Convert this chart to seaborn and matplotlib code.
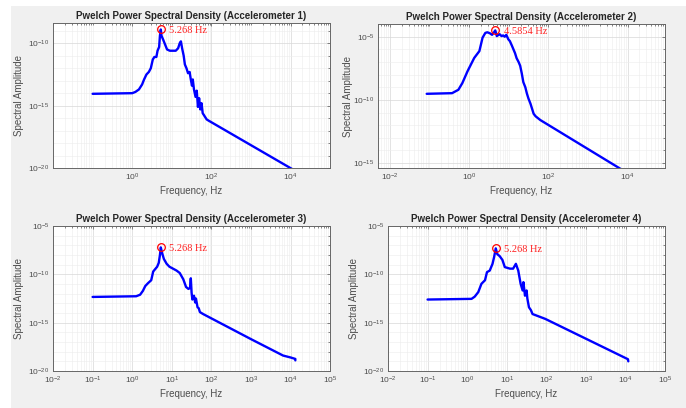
import numpy as np
import pandas as pd
import matplotlib
matplotlib.use('Agg')
import matplotlib.pyplot as plt
import matplotlib.ticker as mticker
from matplotlib.patches import Rectangle
import seaborn as sns

# ── Data (log10 frequency, log10 PSD) ─────────────────────────────────
acc1_logf = [-1.0, 0.0, 0.08, 0.17, 0.25, 0.30, 0.36, 0.42, 0.47, 0.52, 0.56, 0.61,
             0.64, 0.68, 0.70, 0.722, 0.74, 0.78, 0.83, 0.88, 0.95, 1.03, 1.10, 1.16,
             1.20, 1.23, 1.26, 1.30, 1.33, 1.37, 1.41, 1.45, 1.48, 1.51, 1.53, 1.56,
             1.60, 1.63, 1.66, 1.69, 1.72, 1.75, 1.78, 1.82, 1.88, 1.93, 4.08]
acc1_logp = [-14.05, -14.0, -13.9, -13.7, -13.3, -12.9, -12.5, -12.3, -12.0, -11.3, -11.1, -11.1,
             -10.6, -10.3, -9.4, -8.9, -9.4, -9.7, -10.1, -10.5, -10.6, -10.6, -10.6, -10.4,
             -10.0, -9.85, -10.4, -11.0, -11.7, -12.0, -12.4, -12.3, -12.9, -13.4, -12.9, -13.7,
             -14.3, -13.8, -15.1, -14.4, -15.3, -14.8, -15.6, -15.8, -16.1, -16.2, -20.15]

acc2_logf = [-1.07, -0.43, -0.27, -0.17, -0.04, 0.13, 0.26, 0.34, 0.41, 0.46, 0.52, 0.58,
             0.63, 0.661, 0.70, 0.77, 0.82, 0.86, 0.90, 0.94, 0.99, 1.03, 1.08, 1.12,
             1.16, 1.20, 1.25, 1.29, 1.33, 1.37, 1.42, 1.46, 1.50, 1.55, 1.60, 1.63,
             1.68, 1.72, 1.80, 4.08]
acc2_logp = [-9.52, -9.47, -9.2, -8.67, -7.74, -6.68, -6.14, -5.08, -4.7, -4.65, -4.72, -4.85,
             -4.65, -4.5, -4.95, -4.8, -4.95, -4.9, -5.0, -4.85, -5.2, -5.35, -5.7, -6.0,
             -6.3, -6.7, -7.0, -7.3, -7.9, -8.6, -9.0, -9.5, -9.9, -10.3, -10.8, -11.1,
             -11.3, -11.4, -11.6, -15.95]

acc3_logf = [-1.0, 0.1, 0.2, 0.27, 0.33, 0.40, 0.48, 0.53, 0.57, 0.63, 0.67, 0.70,
             0.722, 0.75, 0.80, 0.87, 0.94, 1.03, 1.12, 1.20, 1.29, 1.36, 1.42, 1.46,
             1.48, 1.50, 1.52, 1.56, 1.59, 1.61, 1.65, 1.68, 1.71, 1.79, 3.0, 3.81,
             4.0, 4.12, 4.12]
acc3_logp = [-12.33, -12.26, -12.1, -11.7, -11.2, -10.9, -10.6, -9.7, -9.5, -9.2, -8.8, -8.0,
             -7.2, -7.7, -8.4, -8.9, -9.2, -9.4, -9.6, -9.85, -10.5, -11.3, -11.5, -11.4,
             -10.4, -11.9, -12.6, -12.2, -12.9, -12.5, -13.4, -13.5, -13.9, -14.1, -16.7, -18.4,
             -18.6, -18.75, -18.9]

acc4_logf = [-1.0, 0.11, 0.19, 0.28, 0.36, 0.45, 0.50, 0.57, 0.64, 0.68, 0.722, 0.76,
             0.82, 0.89, 0.95, 1.08, 1.16, 1.23, 1.29, 1.35, 1.40, 1.42, 1.46, 1.50,
             1.52, 1.56, 1.61, 1.65, 1.97, 3.97, 4.06, 4.07]
acc4_logp = [-12.6, -12.53, -12.3, -11.83, -10.97, -10.6, -9.76, -9.6, -8.9, -8.2, -7.3, -7.9,
             -8.1, -8.5, -9.24, -9.4, -9.4, -8.9, -9.6, -10.97, -11.66, -10.8, -12.2, -11.66,
             -12.5, -13.4, -13.7, -14.1, -14.6, -18.6, -18.78, -19.0]

titles = ['Pwelch Power Spectral Density (Accelerometer 1)',
          'Pwelch Power Spectral Density (Accelerometer 2)',
          'Pwelch Power Spectral Density (Accelerometer 3)',
          'Pwelch Power Spectral Density (Accelerometer 4)']
peak_labels = ['5.268 Hz', '4.5854 Hz', '5.268 Hz', '5.268 Hz']

# axis limits as log10 exponents
xlims = [(-2, 5), (-2.3, 4.94), (-2, 5), (-2, 5)]
ylims = [(-20, -8.4), (-15.4, -4), (-20, -5), (-20, -5)]
xticks = [[0, 2, 4], [-2, 0, 2, 4], list(range(-2, 6)), list(range(-2, 6))]
yticks = [[-20, -15, -10], [-15, -10, -5], [-20, -15, -10, -5], [-20, -15, -10, -5]]

# axes positions [left, bottom, width, height] in figure fraction
positions = [[0.0773, 0.588, 0.404, 0.355],
             [0.551, 0.588, 0.418, 0.353],
             [0.0773, 0.0907, 0.404, 0.355],
             [0.5656, 0.0907, 0.404, 0.355]]
ylabel_x = [-0.105, -0.088, -0.105, -0.105]

series = [(acc1_logf, acc1_logp), (acc2_logf, acc2_logp),
          (acc3_logf, acc3_logp), (acc4_logf, acc4_logp)]

# ── Style ────────────────────────────────────────────────────────────
sns.set_theme(style='white')
plt.rcParams['font.family'] = ['Liberation Sans', 'DejaVu Sans']
plt.rcParams['mathtext.default'] = 'regular'
plt.rcParams['axes.unicode_minus'] = False

fig = plt.figure(figsize=(6.86, 4.08), dpi=100, facecolor='white')
fig.patches.append(Rectangle((11 / 686, 0), 1 - 11 / 686, 1 - 6 / 408,
                             transform=fig.transFigure, facecolor='#f0f0f0',
                             edgecolor='none', zorder=-10))

txt_col = '#4d4d4d'

for i in range(4):
    ax = fig.add_axes(positions[i])
    ax.set_facecolor('white')
    lf, lp = series[i]
    df = pd.DataFrame({'f': np.power(10.0, lf), 'p': np.power(10.0, lp)})
    sns.lineplot(data=df, x='f', y='p', ax=ax, sort=False, estimator=None,
                 color='#0000ff', linewidth=1.7)
    ax.set_xscale('log')
    ax.set_yscale('log')
    ax.set_xlim(10.0 ** xlims[i][0], 10.0 ** xlims[i][1])
    ax.set_ylim(10.0 ** ylims[i][0], 10.0 ** ylims[i][1])

    # peak marker + label
    k = int(np.argmax(df['p'].values))
    ax.plot(df['f'].iloc[k], df['p'].iloc[k], 'o', mfc='none', mec='#ff0000',
            ms=5.5, mew=0.9)
    ax.annotate(peak_labels[i], (df['f'].iloc[k], df['p'].iloc[k]),
                xytext=(6, -1), textcoords='offset points', va='center',
                color='#ff2020', fontsize=7.5, family=['Liberation Serif'])

    # ticks
    ax.xaxis.set_major_locator(mticker.FixedLocator([10.0 ** e for e in xticks[i]]))
    ax.xaxis.set_minor_locator(mticker.LogLocator(base=10, subs=np.arange(1, 10), numticks=50))
    ax.xaxis.set_minor_formatter(mticker.NullFormatter())
    ax.yaxis.set_major_locator(mticker.FixedLocator([10.0 ** e for e in yticks[i]]))
    ax.yaxis.set_minor_locator(mticker.FixedLocator(
        [10.0 ** e for e in range(int(np.floor(ylims[i][0])), int(np.ceil(ylims[i][1])) + 1)]))
    ax.yaxis.set_minor_formatter(mticker.NullFormatter())
    ax.xaxis.set_major_formatter(mticker.LogFormatterSciNotation())
    ax.yaxis.set_major_formatter(mticker.LogFormatterSciNotation())

    ax.tick_params(which='both', direction='in', top=True, right=True,
                   colors='#555555', labelcolor=txt_col, labelsize=6, width=0.5)
    ax.tick_params(which='major', length=2.5, pad=2.5)
    ax.tick_params(which='minor', length=1.5)

    ax.grid(True, which='major', color='#d8d8d8', linewidth=0.5)
    ax.grid(True, which='minor', color='#ececec', linewidth=0.4)
    ax.set_axisbelow(True)
    for s in ax.spines.values():
        s.set_color('#666666')
        s.set_linewidth(0.7)

    ax.set_title(titles[i], fontsize=7, fontweight='bold', color='#262626', pad=3)
    ax.set_xlabel('Frequency, Hz', fontsize=7, color=txt_col, labelpad=2)
    ax.set_ylabel('Spectral Amplitude', fontsize=7, color=txt_col)
    ax.yaxis.set_label_coords(ylabel_x[i], 0.5)

fig.savefig('out.png', dpi=100, facecolor=fig.get_facecolor())
